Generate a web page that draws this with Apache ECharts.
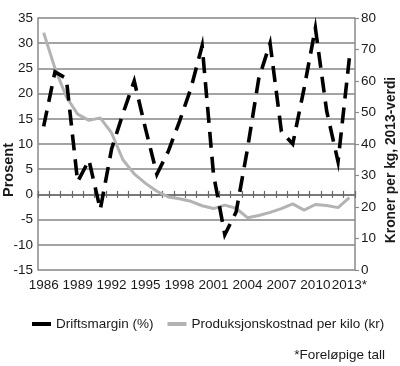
<!DOCTYPE html>
<html><head><meta charset="utf-8">
<script src="https://cdn.jsdelivr.net/npm/echarts@6/dist/echarts.min.js"></script>
<style>html,body{margin:0;padding:0;background:#fff}#c{width:400px;height:366px}</style>
</head><body><div id="c"></div>
<script>
const years = ['1986','1987','1988','1989','1990','1991','1992','1993','1994','1995','1996','1997','1998','1999','2000','2001','2002','2003','2004','2005','2006','2007','2008','2009','2010','2011','2012','2013*'];
const driftsmargin = [13.5, 24.3, 23, 2.5, 6.8, -3, 9, 16, 22.5, 13, 4, 8.5, 14.5, 21, 29.5, 4, -8, -3.5, 9, 23, 30, 12.5, 10, 21, 33, 16.5, 6.5, 27];
const produksjonskostnad = [75.3, 64, 55, 49.5, 47.5, 48.3, 43.5, 35, 30.5, 27.5, 25, 23.2, 22.6, 21.8, 20.4, 19.5, 20.6, 19.6, 16.6, 17.3, 18.3, 19.5, 21, 19, 20.8, 20.5, 19.8, 23];
const leftAxis = {min: -15, max: 35, step: 5};
const rightAxis = {min: 0, max: 80, step: 10};
const seriesNames = ['Driftsmargin (%)', 'Produksjonskostnad per kilo (kr)'];
const leftName = 'Prosent';
const rightName = 'Kroner per kg, 2013-verdi';
const footnote = '*Foreløpige tall';

const FF = '"Liberation Sans", Arial, sans-serif';
const TXT = '#1a1a1a';
const GRID = '#858585';

const chart = echarts.init(document.getElementById('c'), null, {renderer: 'canvas'});
const hiddenCat = (tickInside) => ({
  type: 'category', data: years, boundaryGap: true, position: 'bottom',
  axisLine: {show: true, onZero: true, onZeroAxisIndex: 0, lineStyle: {color: '#777', width: 1.5}},
  axisTick: {show: true, interval: 0, inside: tickInside, length: 3.5, lineStyle: {color: '#666', width: 1.2}},
  axisLabel: {show: false}, splitLine: {show: false}
});
chart.setOption({
  animation: false,
  grid: {left: 38, right: 45, top: 18, bottom: 96, containLabel: false, outerBoundsMode: 'none'},
  xAxis: [
    {type: 'category', data: years, boundaryGap: true, position: 'bottom',
     axisLine: {show: false, onZero: false}, axisTick: {show: false},
     axisLabel: {interval: 2, fontSize: 13.5, fontFamily: FF, color: TXT, margin: 8, hideOverlap: false},
     splitLine: {show: false}},
    hiddenCat(false),
    hiddenCat(true)
  ],
  yAxis: [
    {type: 'value', min: leftAxis.min, max: leftAxis.max, interval: leftAxis.step, position: 'left',
     axisLine: {show: true, onZero: false, lineStyle: {color: '#8a8a8a', width: 1.5}},
     axisTick: {show: false},
     axisLabel: {fontSize: 13.5, fontFamily: FF, color: TXT, margin: 5},
     splitLine: {show: true, lineStyle: {color: GRID, width: 1.5}}},
    {type: 'value', min: rightAxis.min, max: rightAxis.max, interval: rightAxis.step, position: 'right',
     axisLine: {show: true, onZero: false, lineStyle: {color: '#8a8a8a', width: 1.5}},
     axisTick: {show: true, length: 4, lineStyle: {color: '#8a8a8a', width: 1.2}},
     axisLabel: {fontSize: 13.5, fontFamily: FF, color: TXT, margin: 6},
     splitLine: {show: false}}
  ],
  legend: {
    data: seriesNames, left: 27, top: 312, icon: 'rect', itemWidth: 19, itemHeight: 4, itemGap: 14,
    textStyle: {fontSize: 13.5, fontFamily: FF, color: TXT}
  },
  graphic: [
    {type: 'text', x: 9, y: 170, rotation: Math.PI / 2,
     style: {text: leftName, font: 'bold 14.5px ' + FF, fill: TXT, textAlign: 'center', textVerticalAlign: 'middle'}},
    {type: 'text', x: 391, y: 160, rotation: Math.PI / 2,
     style: {text: rightName, font: 'bold 13.8px ' + FF, fill: TXT, textAlign: 'center', textVerticalAlign: 'middle'}},
    {type: 'text', right: 15, top: 348,
     style: {text: footnote, font: '13.5px ' + FF, fill: TXT}}
  ],
  series: [
    {name: seriesNames[1], type: 'line', xAxisIndex: 0, yAxisIndex: 1, data: produksjonskostnad,
     symbol: 'none', showSymbol: false, color: '#b3b3b3',
     lineStyle: {color: '#b3b3b3', width: 3}},
    {name: seriesNames[0], type: 'line', xAxisIndex: 0, yAxisIndex: 0, data: driftsmargin,
     symbol: 'none', showSymbol: false, color: '#000',
     lineStyle: {color: '#000', width: 3.6, type: [16, 9], join: 'miter', cap: 'butt'}}
  ]
});
</script></body></html>
